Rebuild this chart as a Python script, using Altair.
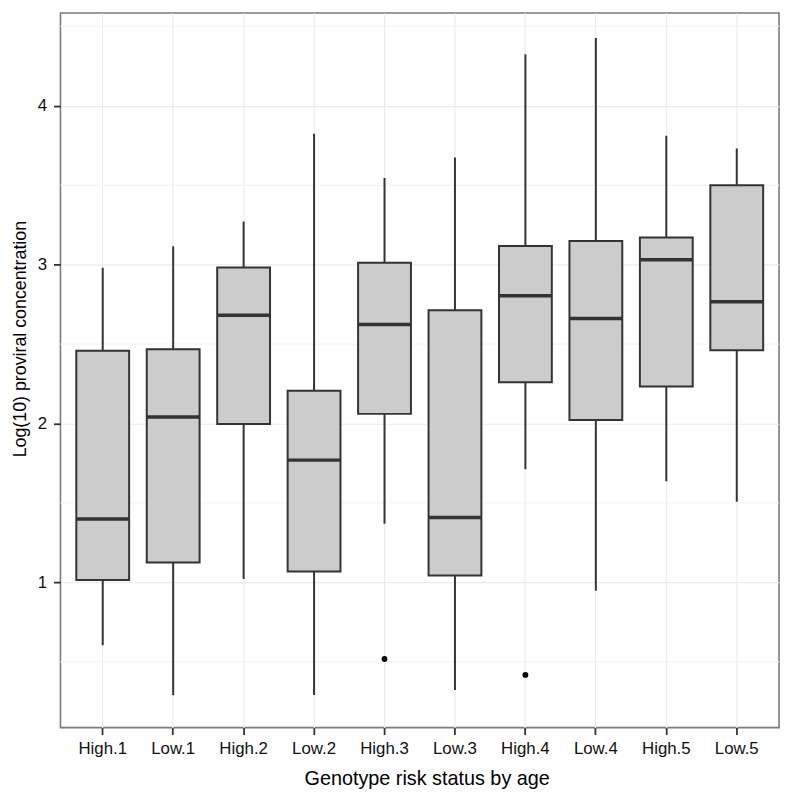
import altair as alt
import pandas as pd

groups = ["High.1", "Low.1", "High.2", "Low.2", "High.3", "Low.3", "High.4", "Low.4", "High.5", "Low.5"]
lower = [0.605, 0.290, 1.021, 0.292, 1.369, 0.323, 1.712, 0.948, 1.637, 1.508]
q1 = [1.016, 1.125, 1.997, 1.069, 2.061, 1.044, 2.260, 2.022, 2.234, 2.462]
median = [1.399, 2.042, 2.682, 1.770, 2.624, 1.409, 2.804, 2.661, 3.031, 2.767]
q3 = [2.458, 2.468, 2.983, 2.206, 3.012, 2.713, 3.118, 3.150, 3.172, 3.500]
upper = [2.981, 3.116, 3.272, 3.824, 3.546, 3.675, 4.325, 4.427, 3.812, 3.731]
outlier_groups = ["High.3", "High.4"]
outlier_values = [0.518, 0.418]
minor_breaks = [0.5, 1.5, 2.5, 3.5, 4.5]
y_ticks = [1, 2, 3, 4]

boxes = pd.DataFrame({"group": groups, "lower": lower, "q1": q1, "median": median, "q3": q3, "upper": upper})
outliers = pd.DataFrame({"group": outlier_groups, "value": outlier_values})
minor = pd.DataFrame({"v": minor_breaks})

FONT = "Liberation Sans"
DARK = "#333333"

x_scale = alt.Scale(domain=groups, paddingInner=0.25, paddingOuter=0.225)
y_scale = alt.Scale(domain=[0.086, 4.5844], nice=False, zero=False)

x_axis = alt.Axis(
    title="Genotype risk status by age", labelAngle=0, labelFont=FONT, labelFontSize=17,
    labelColor="#111111", labelPadding=6, tickColor=DARK, tickSize=7, tickWidth=1.8,
    domain=False, grid=True, gridColor="#EBEBEB", gridWidth=1.2, bandPosition=0.5,
    titleFont=FONT, titleFontSize=20, titleFontWeight="normal", titleColor="#000000",
    titleX=370, titleY=57, titleBaseline="alphabetic", titleAlign="center",
)
y_axis = alt.Axis(
    title="Log(10) proviral concentration", values=y_ticks, format="d", labelFont=FONT,
    labelFontSize=17, labelColor="#111111", labelPadding=7, tickColor=DARK, tickSize=7,
    tickWidth=1.8, domain=False, grid=True, gridColor="#EBEBEB", gridWidth=1.2,
    titleFont=FONT, titleFontSize=18, titleFontWeight="normal", titleColor="#000000",
    titleX=-35, titleY=329, titleAngle=270, titleBaseline="alphabetic", titleAlign="center",
)

minor_layer = alt.Chart(minor).mark_rule(color="#F4F4F4", strokeWidth=1.2).encode(
    y=alt.Y("v:Q", scale=y_scale, axis=y_axis)
)

base = alt.Chart(boxes)

whiskers = base.mark_rule(color=DARK, strokeWidth=2).encode(
    x=alt.X("group:N", scale=x_scale, axis=x_axis, sort=groups),
    y=alt.Y("lower:Q", scale=y_scale, axis=y_axis),
    y2="upper:Q",
)

box_layer = base.mark_bar(fill="#CCCCCC", stroke=DARK, strokeWidth=2).encode(
    x=alt.X("group:N", scale=x_scale, axis=x_axis, sort=groups),
    y=alt.Y("q1:Q", scale=y_scale, axis=y_axis),
    y2="q3:Q",
)

median_layer = base.mark_tick(color=DARK, thickness=3.5, size=53, opacity=1).encode(
    x=alt.X("group:N", scale=x_scale, axis=x_axis, sort=groups),
    y=alt.Y("median:Q", scale=y_scale, axis=y_axis),
)

outlier_layer = alt.Chart(outliers).mark_circle(color="#000000", size=34, opacity=1).encode(
    x=alt.X("group:N", scale=x_scale, axis=x_axis, sort=groups),
    y=alt.Y("value:Q", scale=y_scale, axis=y_axis),
)

chart = alt.layer(minor_layer, whiskers, box_layer, median_layer, outlier_layer).properties(
    width=726,
    height=722,
    autosize=alt.AutoSizeParams(type="none"),
    padding={"left": 53, "top": 1, "right": 2, "bottom": 64},
    view=alt.ViewBackground(stroke="#7A7A7A", strokeWidth=1.6, fill="#FFFFFF"),
).configure(background="#FFFFFF")

chart.save("out.html", embed_options={"renderer": "svg", "actions": False})
